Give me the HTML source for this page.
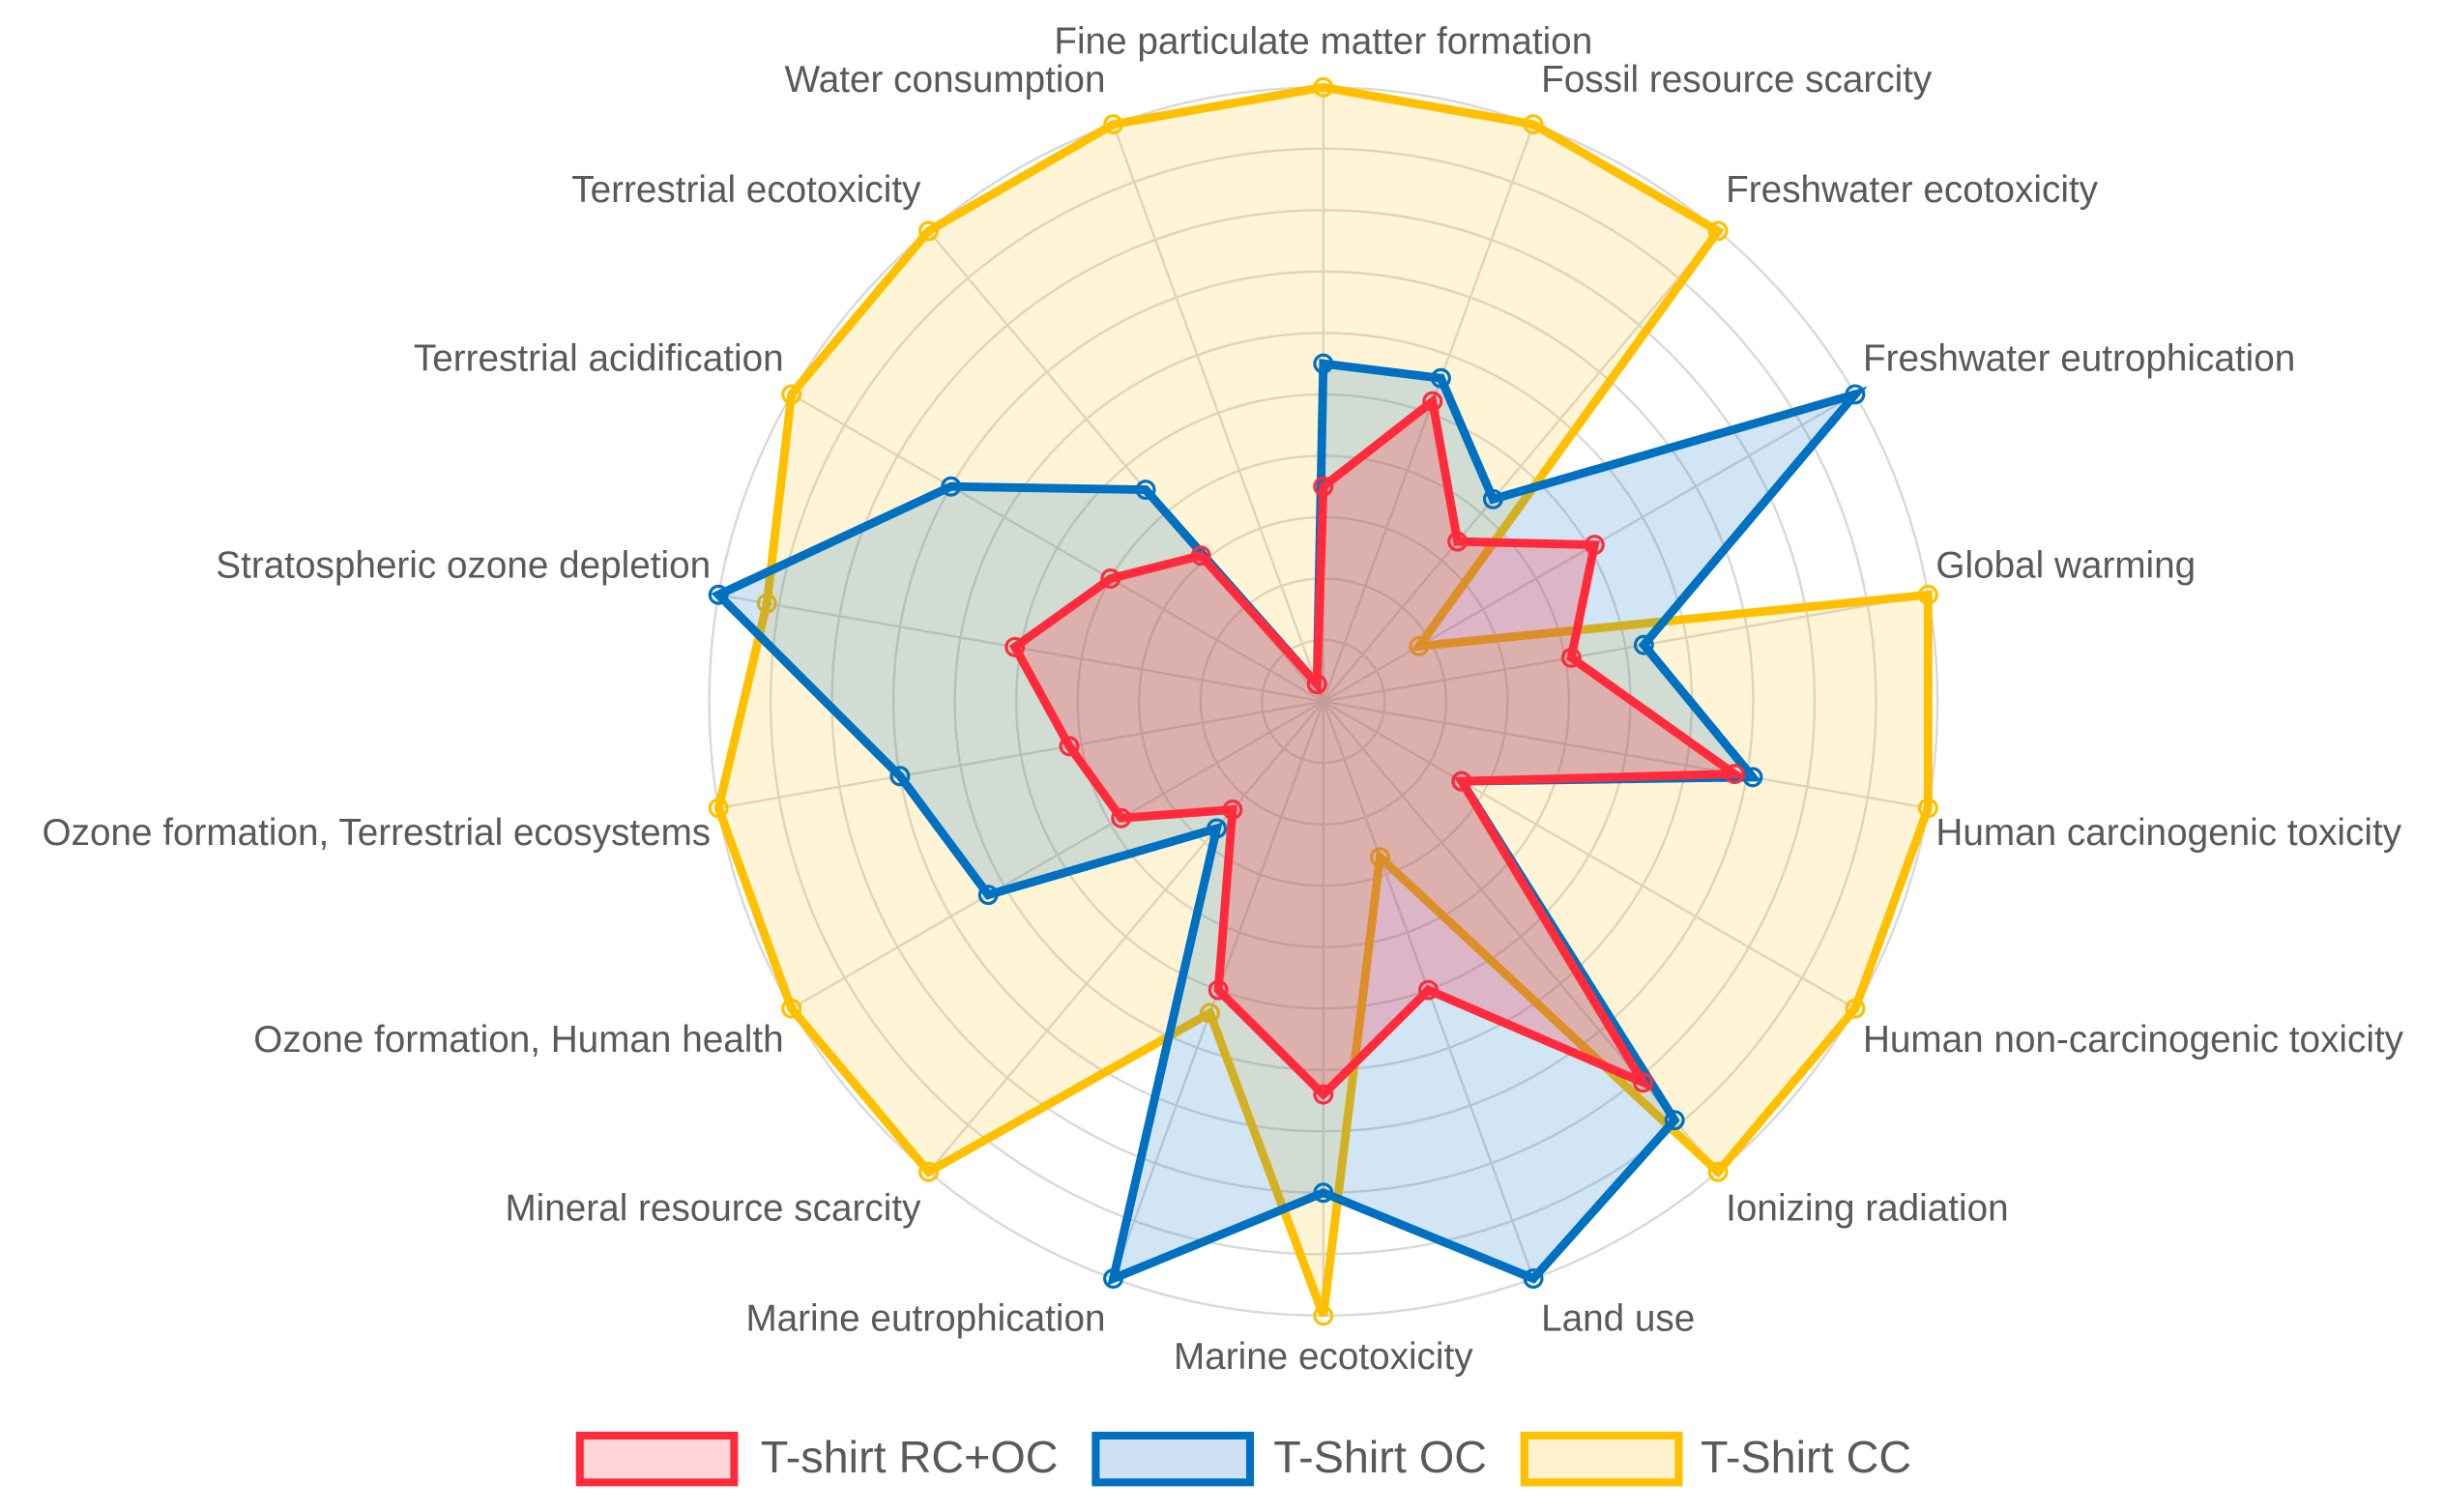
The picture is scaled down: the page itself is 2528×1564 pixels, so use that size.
<!DOCTYPE html>
<html><head><meta charset="utf-8"><style>html,body{margin:0;padding:0;background:#fff}svg{display:block}</style></head>
<body>
<svg id="chart" width="2528" height="1564" viewBox="0 0 1568 970" preserveAspectRatio="none" xmlns="http://www.w3.org/2000/svg" font-family="'Liberation Sans', sans-serif"></svg>
<script>
const categories=["Fine particulate matter formation","Fossil resource scarcity","Freshwater ecotoxicity","Freshwater eutrophication","Global warming","Human carcinogenic toxicity","Human non-carcinogenic toxicity","Ionizing radiation","Land use","Marine ecotoxicity","Marine eutrophication","Mineral resource scarcity","Ozone formation, Human health","Ozone formation, Terrestrial ecosystems","Stratospheric ozone depletion","Terrestrial acidification","Terrestrial ecotoxicity","Water consumption"];
const seriesCC=[100,100,100,18,100,100,100,100,27,100,54,100,100,100,92,100,100,100];
const seriesOC=[55,56,43,100,53,71,26,89,100,80,100,27,63,70,100,70,45,3];
const seriesRC=[35,52,34,51,41,68,26,81,50,64,50,23,38,42,51,40,31,3];
const ringTicks=[10,20,30,40,50,60,70,80,90,100];
const seriesNames=["T-shirt RC+OC","T-Shirt OC","T-Shirt CC"];

const svg=document.getElementById('chart');
const NS='http://www.w3.org/2000/svg';
const CX=849,CY=450,R=394,MAX=100;
function ang(i){return i*2*Math.PI/categories.length;}
function pt(i,v){const r=v/MAX*R;return [CX+r*Math.sin(ang(i)),CY-r*Math.cos(ang(i))];}
function mk(tag,attrs,parent){const e=document.createElementNS(NS,tag);for(const k in attrs)e.setAttribute(k,attrs[k]);(parent||svg).appendChild(e);return e;}

const grid=mk('g',{});


ringTicks.forEach(t=>{
  const c=mk('circle',{cx:CX,cy:CY,r:t/MAX*R,fill:'none',stroke:'#d9d9d9','stroke-width':1.5},grid);
  
  
});
categories.forEach((c,i)=>{
  const [x,y]=pt(i,MAX);
  const l=mk('line',{x1:CX,y1:CY,x2:x,y2:y,stroke:'#d9d9d9','stroke-width':1.5},grid);
  
  
});

const defs=[{vals:seriesCC,col:'#ffc000',fill:'rgba(255,192,0,0.16)',name:'series-tshirt-cc'},
{vals:seriesOC,col:'#0070c0',fill:'rgba(0,112,192,0.18)',name:'series-tshirt-oc'},
{vals:seriesRC,col:'#ff2a3c',fill:'rgba(255,42,60,0.25)',name:'series-tshirt-rc-oc'}];
defs.forEach(d=>{
  const g=mk('g',{});
  
  
  const pts=d.vals.map((v,i)=>pt(i,v).join(',')).join(' ');
  const p=mk('polygon',{points:pts,fill:d.fill,stroke:d.col,'stroke-width':5.5,'stroke-linejoin':'miter'},g);
  
  
  d.vals.forEach((v,i)=>{
    const [x,y]=pt(i,v);
    const m=mk('circle',{cx:x,cy:y,r:5.5,fill:'none',stroke:d.col,'stroke-width':2},g);
    
    
  });
});

categories.forEach((c,i)=>{
  const a=ang(i),s=Math.sin(a),co=Math.cos(a);
  const [x,y]=pt(i,MAX);
  let anchor='middle',tx=x,ty;
  if(s>0.1){anchor='start';tx=x+5;}else if(s<-0.1){anchor='end';tx=x-5;}
  ty=y-(15+13*Math.abs(co))*Math.sign(co||1);
  if(i===0)ty=y-28;
  const t=mk('text',{x:tx,y:ty,'text-anchor':anchor,'dominant-baseline':'middle','font-size':24,fill:'#595959'});
  t.textContent=c;
  
  
});

const legend=mk('g',{});


const legItems=[{x:372,tx:488,col:'#ff2a3c',fill:'#ffd5d8'},{x:703,tx:817,col:'#0070c0',fill:'#cfe0f2'},{x:978,tx:1091,col:'#ffc000',fill:'#fff2cc'}];
legItems.forEach((l,i)=>{
  const g=mk('g',{},legend);
  
  
  mk('rect',{x:l.x,y:921,width:99,height:30,fill:l.fill,stroke:l.col,'stroke-width':5},g);
  const t=mk('text',{x:l.tx,y:937,'dominant-baseline':'middle','font-size':29,fill:'#595959'},g);
  t.textContent=seriesNames[i];
});
</script>
</body></html>
